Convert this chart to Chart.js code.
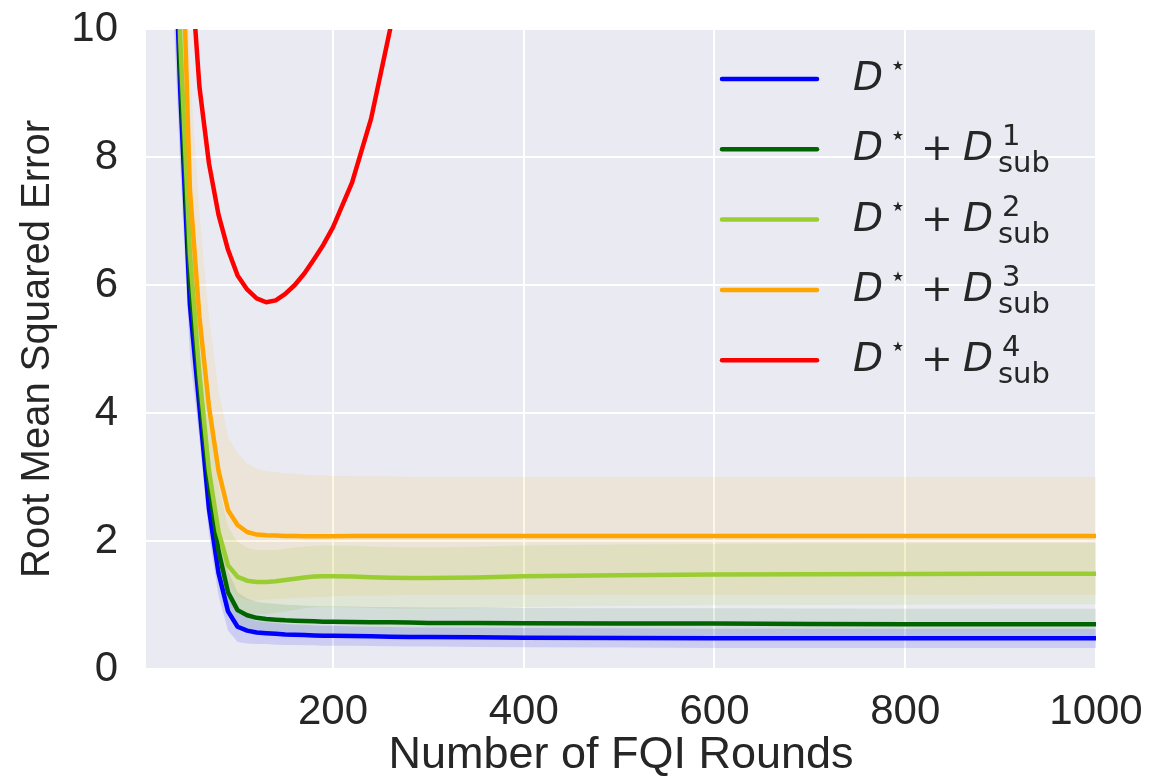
<!DOCTYPE html>
<html><head><meta charset="utf-8">
<script src="https://cdn.jsdelivr.net/npm/chart.js@4.4.1/dist/chart.umd.min.js"></script>
<style>html,body{margin:0;padding:0;background:#fff}#wrap{width:1155px;height:776px}</style>
</head><body><div id="wrap"><canvas id="c" width="1155" height="776"></canvas></div>
<script>
// ---- data ----
const rounds = [10,20,30,40,50,60,70,80,90,100,110,120,130,140,150,160,170,180,190,200,220,240,260,280,300,350,400,500,600,700,800,900,1000];

const meanD = [30,20,13.2,9.0,5.7,4.1,2.5,1.5,0.9,0.66,0.6,0.57,0.56,0.55,0.54,0.535,0.53,0.525,0.52,0.52,0.515,0.51,0.505,0.5,0.5,0.495,0.49,0.485,0.48,0.48,0.48,0.48,0.48];
const stdD  = [3,2.5,2,1.2,0.8,0.5,0.4,0.35,0.3,0.24,0.2,0.18,0.17,0.17,0.165,0.16,0.16,0.155,0.155,0.155,0.15,0.15,0.15,0.15,0.15,0.15,0.15,0.15,0.15,0.15,0.15,0.15,0.15];

const meanSub1 = [32,21,14,9.4,6.1,4.4,2.9,1.85,1.2,0.92,0.84,0.8,0.78,0.77,0.76,0.755,0.75,0.745,0.74,0.74,0.735,0.73,0.73,0.725,0.72,0.72,0.715,0.71,0.71,0.705,0.7,0.7,0.7];
const stdSub1  = [3,2.5,2,1.3,0.9,0.6,0.5,0.4,0.33,0.28,0.26,0.25,0.25,0.25,0.245,0.245,0.24,0.24,0.24,0.24,0.24,0.24,0.24,0.24,0.24,0.24,0.24,0.24,0.24,0.24,0.24,0.24,0.24];

const meanSub2 = [35,23,15,9.8,6.5,4.6,3.1,2.15,1.62,1.44,1.38,1.36,1.36,1.37,1.39,1.41,1.43,1.445,1.45,1.45,1.445,1.435,1.425,1.42,1.42,1.43,1.45,1.465,1.475,1.48,1.485,1.49,1.49];
const stdSub2  = [3,2.5,2,1.5,1.2,1.0,0.85,0.7,0.6,0.55,0.52,0.5,0.5,0.49,0.49,0.49,0.48,0.48,0.48,0.48,0.48,0.48,0.48,0.48,0.48,0.48,0.48,0.48,0.48,0.48,0.48,0.48,0.48];

const meanSub3 = [40,26,18,12.5,7.5,5.5,4.1,3.1,2.48,2.25,2.14,2.1,2.09,2.085,2.08,2.08,2.075,2.075,2.075,2.075,2.08,2.08,2.08,2.08,2.08,2.08,2.08,2.08,2.08,2.08,2.08,2.08,2.08];
const stdSub3  = [4,3,2.6,2.2,1.9,1.6,1.4,1.25,1.15,1.12,1.07,1.03,1.0,0.99,0.98,0.97,0.96,0.95,0.95,0.94,0.93,0.93,0.93,0.92,0.92,0.92,0.92,0.92,0.92,0.92,0.92,0.92,0.92];

const meanSub4 = [60,35,22,15,11.2,9.1,7.9,7.1,6.55,6.15,5.93,5.79,5.73,5.76,5.86,6.0,6.18,6.4,6.63,6.9,7.6,8.6,10.0,11.6,13.5,null,null,null,null,null,null,null,null];

const seriesColors = ['#0000ff','#006400','#9acd32','#ffa500','#ff0000'];
const bandColors = ['rgba(0,0,255,0.12)','rgba(0,100,0,0.10)','rgba(154,205,50,0.14)','rgba(255,165,0,0.10)'];
const legendSup = ['', '1', '2', '3', '4'];

const xTicks = [200,400,600,800,1000];
const yTicks = [0,2,4,6,8,10];

// ---- build datasets ----
const means = [meanD, meanSub1, meanSub2, meanSub3, meanSub4];
const stds = [stdD, stdSub1, stdSub2, stdSub3, null];
const pts = arr => rounds.map((x,i)=>({x, y: arr[i]}));
const datasets = [];
stds.forEach((sd, k) => {
  if (!sd) return;
  const m = means[k];
  datasets.push({data: rounds.map((x,i)=>({x, y: m[i]+sd[i]})), borderWidth:0, pointRadius:0, fill:false, order:20, clip:0});
  datasets.push({data: rounds.map((x,i)=>({x, y: m[i]-sd[i]})), borderWidth:0, pointRadius:0, fill:'-1', backgroundColor: bandColors[k], order:20, clip:0});
});
means.forEach((m, k) => {
  datasets.push({data: pts(m), borderColor: seriesColors[k], borderWidth:4.5, pointRadius:0, fill:false,
    tension:0, order: 10-k, clip:0, borderCapStyle:'round', borderJoinStyle:'round'});
});

const bgPlugin = {
  id:'bg',
  beforeDraw(chart){
    const {ctx, chartArea:a} = chart;
    ctx.save(); ctx.fillStyle='#eaeaf2'; ctx.fillRect(a.left,a.top,a.right-a.left,a.bottom-a.top); ctx.restore();
  }
};

const legendPlugin = {
  id:'mathLegend',
  afterDraw(chart){
    const {ctx, chartArea:a} = chart;
    ctx.save();
    const lx0 = a.right - 374, lx1 = a.right - 279, tx = a.right - 243;
    seriesColors.forEach((col, i) => {
      const L = a.top + 50 + i*70.3;
      ctx.strokeStyle = col; ctx.lineWidth = 4.5; ctx.lineCap = 'round';
      ctx.beginPath(); ctx.moveTo(lx0, L); ctx.lineTo(lx1, L); ctx.stroke();
      ctx.fillStyle = '#262626';
      ctx.textAlign = 'left'; ctx.textBaseline = 'alphabetic';
      ctx.font = 'italic 39px "DejaVu Sans"';
      ctx.fillText('D', tx, L+11);
      ctx.font = '27px "DejaVu Sans"';
      ctx.textAlign = 'center'; ctx.textBaseline = 'middle';
      ctx.fillText('\u22C6', tx+45, L-12);
      if (legendSup[i]) {
        ctx.textBaseline = 'alphabetic';
        ctx.font = '38px "DejaVu Sans"';
        ctx.fillText('+', tx+84, L+11);
        ctx.textAlign = 'left';
        ctx.font = 'italic 39px "DejaVu Sans"';
        ctx.fillText('D', tx+110, L+11);
        ctx.font = '29px "DejaVu Sans"';
        ctx.fillText(legendSup[i], tx+149, L-4);
        ctx.fillText('sub', tx+145, L+23);
      }
    });
    ctx.restore();
  }
};

Chart.defaults.font.family = '"Liberation Sans", Arial, sans-serif';
Chart.defaults.color = '#262626';

new Chart(document.getElementById('c'), {
  type:'line',
  data:{datasets},
  plugins:[bgPlugin, legendPlugin],
  options:{
    responsive:false, animation:false, devicePixelRatio:1,
    layout:{padding:{left:0, right:59, top:29, bottom:0}},
    plugins:{legend:{display:false}, tooltip:{enabled:false}},
    scales:{
      x:{
        type:'linear', min:4, max:1000,
        afterBuildTicks: s => { s.ticks = xTicks.map(v=>({value:v})); },
        afterFit: s => { s.height = 107; s.paddingLeft = 0; s.paddingRight = 0; },
        grid:{color:'#ffffff', lineWidth:2, drawTicks:false},
        border:{display:false},
        ticks:{font:{size:42}, color:'#262626', padding:18, maxRotation:0, callback: v => String(v)},
        title:{display:true, text:'Number of FQI Rounds', font:{size:45, lineHeight:1}, color:'#262626', padding:{top:0,bottom:-2}}
      },
      y:{
        type:'linear', min:0, max:10,
        afterBuildTicks: s => { s.ticks = yTicks.map(v=>({value:v})); },
        afterFit: s => { s.width = 146; s.paddingTop = 0; s.paddingBottom = 0; },
        grid:{color:'#ffffff', lineWidth:2, drawTicks:false},
        border:{display:false},
        ticks:{font:{size:42}, color:'#262626', padding:28, callback: v => String(v)},
        title:{display:true, text:'Root Mean Squared Error', font:{size:40}, color:'#262626', padding:{top:14,bottom:0}}
      }
    }
  }
});
</script></body></html>
